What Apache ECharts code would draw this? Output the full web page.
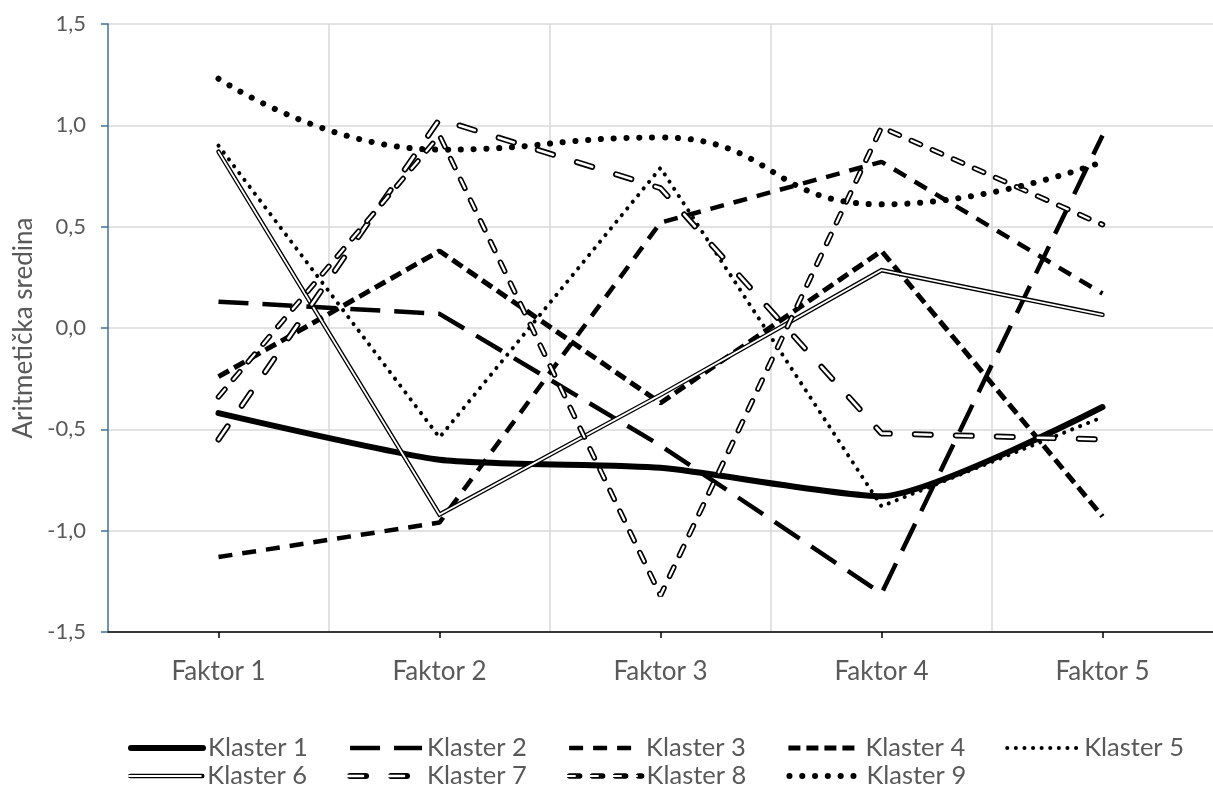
<!DOCTYPE html>
<html>
<head>
<meta charset="utf-8">
<script src="https://cdn.jsdelivr.net/npm/echarts@6/dist/echarts.min.js"></script>
<style>
html,body{margin:0;padding:0;background:#fff;}
#chart{width:1213px;height:796px;}
</style>
</head>
<body>
<div id="chart"></div>
<script>
var categories = ['Faktor 1', 'Faktor 2', 'Faktor 3', 'Faktor 4', 'Faktor 5'];
var yTicks = { min: -1.5, max: 1.5, step: 0.5 };
var seriesNames = ['Klaster 1','Klaster 2','Klaster 3','Klaster 4','Klaster 5','Klaster 6','Klaster 7','Klaster 8','Klaster 9'];
var klaster1 = [-0.42, -0.65, -0.69, -0.83, -0.39];
var klaster2 = [0.13, 0.07, -0.58, -1.31, 0.95];
var klaster3 = [-1.13, -0.96, 0.52, 0.82, 0.17];
var klaster4 = [-0.24, 0.38, -0.37, 0.38, -0.93];
var klaster5 = [0.90, -0.54, 0.79, -0.88, -0.44];
var klaster6 = [0.87, -0.92, -0.33, 0.285, 0.065];
var klaster7 = [-0.55, 1.03, 0.69, -0.52, -0.55];
var klaster8 = [-0.34, 0.95, -1.32, 0.99, 0.51];
var klaster9 = [1.23, 0.88, 0.94, 0.61, 0.82];

var FONT = 'Lato';
var FS_TICK = 22;
var FS_CAT = 26;
var FS_LEG = 25.5;
var FS_NAME = 26;
var GRAY = '#595959';
var ZW = '\u200b';

function measure(t, fs){
  var c = document.createElement('canvas').getContext('2d');
  c.font = fs + 'px ' + FONT;
  return c.measureText(t).width;
}
var itemW = 72;
var pitch = 216.8;
var gap = pitch - itemW - 5 - measure('Klaster 1', FS_LEG);

function line(name, data, ls, extra){
  var s = {
    name: name, type: 'line', data: data, symbol: 'none', showSymbol: false,
    lineStyle: ls, emphasis: { disabled: true }, silent: true
  };
  if (extra) for (var k in extra) s[k] = extra[k];
  return s;
}

var series = [
  line(seriesNames[0], klaster1, { color:'#000', width:6, type:'solid', cap:'round' }, { smooth: 0.2 }),
  line(seriesNames[1], klaster2, { color:'#000', width:4.5, type:[30,14] }),
  line(seriesNames[2], klaster3, { color:'#000', width:4.5, type:[14,10] }),
  line(seriesNames[3], klaster4, { color:'#000', width:5, type:[12,6] }),
  line(seriesNames[4], klaster5, { color:'#000', width:4, type:[0.1,8.5], cap:'round' }),
  line(seriesNames[5], klaster6, { color:'#000', width:4.5, type:'solid', cap:'round', join:'miter' }),
  line(seriesNames[5] + ZW, klaster6, { color:'#fff', width:1.8, type:'solid', cap:'round', join:'miter' }),
  line(seriesNames[6], klaster7, { color:'#000', width:6, type:[16,25], cap:'round' }),
  line(seriesNames[6] + ZW, klaster7, { color:'#fff', width:2.6, type:[16,25], cap:'round' }),
  line(seriesNames[7], klaster8, { color:'#000', width:5.5, type:[10,13], cap:'round' }),
  line(seriesNames[7] + ZW, klaster8, { color:'#fff', width:2.2, type:[10,13], cap:'round' }),
  line(seriesNames[8], klaster9, { color:'#000', width:6, type:[0.1,12.7], cap:'round' }, { smooth: 0.5 })
];

function legend(data, top, transparentText){
  return {
    data: data, left: 128, top: top, orient: 'horizontal', padding: 0,
    itemWidth: itemW, itemHeight: 14, itemGap: gap,
    selectedMode: false,
    formatter: function(n){ return n.replace(ZW, ''); },
    textStyle: { color: transparentText ? 'rgba(0,0,0,0)' : GRAY, fontSize: FS_LEG, fontFamily: FONT, padding: [0,0,0,0] },
    itemStyle: { opacity: 0 },
    lineStyle: { width: 'inherit', type: 'inherit', cap: 'inherit', color: 'inherit' }
  };
}

var chart = echarts.init(document.getElementById('chart'), null, { renderer: 'canvas' });
chart.setOption({
  animation: false,
  backgroundColor: '#fff',
  textStyle: { fontFamily: FONT },
  grid: { left: 108, right: -5, top: 24, bottom: 164 },
  legend: [
    legend(seriesNames.slice(0,5), 735, false),
    legend(seriesNames.slice(5,9), 763, false),
    legend([seriesNames[5]+ZW, seriesNames[6]+ZW, seriesNames[7]+ZW], 763, true)
  ],
  xAxis: {
    type: 'category', data: categories, boundaryGap: true,
    axisLine: { onZero: false, lineStyle: { color: '#000', width: 1.5 } },
    axisTick: { show: true, alignWithLabel: true, length: 6, lineStyle: { color: '#000', width: 1.5 } },
    axisLabel: { color: GRAY, fontSize: FS_CAT, fontFamily: FONT, margin: 27 },
    splitLine: { show: true, showMinLine: false, showMaxLine: false, lineStyle: { color: '#d9d9d9', width: 1.5 } }
  },
  yAxis: {
    type: 'value', min: yTicks.min, max: yTicks.max, interval: yTicks.step,
    name: 'Aritmetička sredina', nameLocation: 'middle', nameGap: 70, nameRotate: 90,
    nameTextStyle: { color: GRAY, fontSize: FS_NAME, fontFamily: FONT },
    axisLine: { show: true, lineStyle: { color: '#41719c', width: 1.5 } },
    axisTick: { show: true, length: 7, lineStyle: { color: '#41719c', width: 1.5 } },
    axisLabel: { color: GRAY, fontSize: FS_TICK, fontFamily: FONT, margin: 22,
      formatter: function(v){ return v.toFixed(1).replace('.', ','); } },
    splitLine: { show: true, lineStyle: { color: '#d9d9d9', width: 1.5 } }
  },
  series: series
});
</script>
</body>
</html>
